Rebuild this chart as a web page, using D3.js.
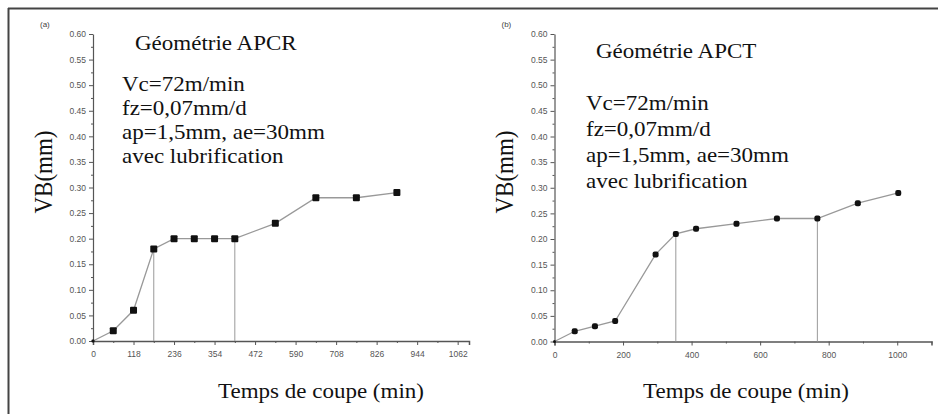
<!DOCTYPE html>
<html>
<head>
<meta charset="utf-8">
<script src="https://cdn.jsdelivr.net/npm/d3@7"></script>
<style>
  body { margin: 0; background: #fff; }
  .tick text { font-family: "Liberation Sans", Arial, sans-serif; font-size: 8.5px; fill: #555; }
</style>
</head>
<body>
<svg id="chart" width="938" height="414"></svg>
<script>
// data
var timesA = [0, 59, 118, 177, 236, 295, 354, 413, 531, 649, 767, 885];
var wearA  = [0, 0.02, 0.06, 0.18, 0.20, 0.20, 0.20, 0.20, 0.23, 0.28, 0.28, 0.29];
var dropsA = [177, 413];
var ticksA = [0, 118, 236, 354, 472, 590, 708, 826, 944, 1062];

var timesB = [0, 59, 118, 177, 295, 354, 413, 531, 649, 767, 885, 1003];
var wearB  = [0, 0.02, 0.03, 0.04, 0.17, 0.21, 0.22, 0.23, 0.24, 0.24, 0.27, 0.29];
var dropsB = [354, 767];
var ticksB = [0, 200, 400, 600, 800, 1000];

var yTicks = [0, 0.05, 0.10, 0.15, 0.20, 0.25, 0.30, 0.35, 0.40, 0.45, 0.50, 0.55, 0.60];
var infoLines = ["Vc=72m/min", "fz=0,07mm/d", "ap=1,5mm, ae=30mm", "avec lubrification"];

var serif = "'Liberation Serif', 'DejaVu Serif', serif";
var svg = d3.select("#chart");

// frame (only top and left edges show)
svg.append("line").attr("x1", 8).attr("y1", 8.5).attr("x2", 938).attr("y2", 8.5)
    .attr("stroke", "#444").attr("stroke-width", 2);
svg.append("line").attr("x1", 8.5).attr("y1", 8).attr("x2", 8.5).attr("y2", 414)
    .attr("stroke", "#444").attr("stroke-width", 2);

function drawPanel(p) {
    var x = d3.scaleLinear().domain([0, p.xMax]).range([p.x0, p.x1]);
    var y = d3.scaleLinear().domain([0, 0.6]).range([p.y0, 34]);
    var g = svg.append("g");

    var minorX = d3.range(0, p.xMax + 1, p.xStep / 2).filter(function(v){
        return p.xTicks.indexOf(v) < 0;
    });
    var minorY = d3.range(0.025, 0.6, 0.05);

    g.append("g").attr("transform", "translate(0," + p.y0 + ")")
        .call(d3.axisBottom(x).tickValues(minorX).tickSize(2).tickFormat(""))
        .call(function(s){ s.select(".domain").remove(); });
    var xa = g.append("g").attr("transform", "translate(0," + p.y0 + ")")
        .call(d3.axisBottom(x).tickValues(p.xTicks).tickSizeOuter(0).tickSize(4).tickPadding(6)
            .tickFormat(d3.format("d")));
    xa.select(".domain").attr("stroke", "#555").attr("stroke-width", 1.5);

    g.append("g").attr("transform", "translate(" + p.x0 + ",0)")
        .call(d3.axisLeft(y).tickValues(minorY).tickSize(2).tickFormat(""))
        .call(function(s){ s.select(".domain").remove(); });
    var ya = g.append("g").attr("transform", "translate(" + p.x0 + ",0)")
        .call(d3.axisLeft(y).tickValues(yTicks).tickSize(4).tickSizeOuter(0).tickPadding(3)
            .tickFormat(d3.format(".2f")));
    ya.select(".domain").attr("stroke", "#555").attr("stroke-width", 1.2);
    g.selectAll(".tick line").attr("stroke", "#555");

    var pts = p.times.map(function(t, i){ return [t, p.wear[i]]; });

    // vertical markers down to the axis
    g.selectAll(".drop").data(p.drops).enter().append("line")
        .attr("x1", function(d){ return x(d); }).attr("x2", function(d){ return x(d); })
        .attr("y1", function(d){ return y(p.wear[p.times.indexOf(d)]); })
        .attr("y2", y(0))
        .attr("stroke", "#999").attr("stroke-width", 1);

    g.append("path").datum(pts)
        .attr("fill", "none").attr("stroke", "#999").attr("stroke-width", 1.3)
        .attr("d", d3.line().x(function(d){ return x(d[0]); }).y(function(d){ return y(d[1]); }));

    g.selectAll(".pt").data(pts).enter().append("rect")
        .attr("x", function(d, i){ return x(d[0]) - (i ? p.ms : 3) / 2; })
        .attr("y", function(d, i){ return y(d[1]) - (i ? p.ms : 3) / 2; })
        .attr("width", function(d, i){ return i ? p.ms : 3; })
        .attr("height", function(d, i){ return i ? p.ms : 3; })
        .attr("rx", p.rx)
        .attr("fill", "#111");

    // texts
    g.append("text").attr("x", p.x0 - 53).attr("y", 27)
        .attr("font-family", "'Liberation Sans', Arial, sans-serif").attr("font-size", 8).attr("fill", "#444")
        .text(p.tag);

    var st = function(tx, ty, size, txt, anchor) {
        g.append("text")
            .attr("transform", "translate(" + tx + "," + ty + ") scale(1.15,1)")
            .attr("font-family", serif).attr("fill", "#111")
            .attr("text-anchor", anchor || "start")
            .attr("font-size", size).text(txt);
    };
    st(p.titleX, p.titleY, 20, p.title);
    infoLines.forEach(function(t, i){
        st(p.infoX, p.infoY + i * p.infoGap, 20, t);
    });
    st(p.xlabX, 398, 20, "Temps de coupe (min)", "middle");

    g.append("text")
        .attr("transform", "translate(" + p.ylabX + "," + 172 + ") rotate(-90) scale(1,1.1)")
        .attr("font-family", serif).attr("fill", "#111")
        .attr("text-anchor", "middle").attr("font-size", 23).text("VB(mm)");
}

drawPanel({x0: 93, x1: 469, xMax: 1095, y0: 341, xStep: 118, xTicks: ticksA,
    times: timesA, wear: wearA, drops: dropsA, ms: 7, rx: 1, tag: "(a)",
    title: "Géométrie APCR", titleX: 135, titleY: 50,
    infoX: 122, infoY: 91, infoGap: 24, ylabX: 52, xlabX: 321});
drawPanel({x0: 554.5, x1: 931.5, xMax: 1100, y0: 341.5, xStep: 200, xTicks: ticksB,
    times: timesB, wear: wearB, drops: dropsB, ms: 6, rx: 2, tag: "(b)",
    title: "Géométrie APCT", titleX: 596, titleY: 58,
    infoX: 586, infoY: 110, infoGap: 26, ylabX: 513, xlabX: 746});
</script>
</body>
</html>
